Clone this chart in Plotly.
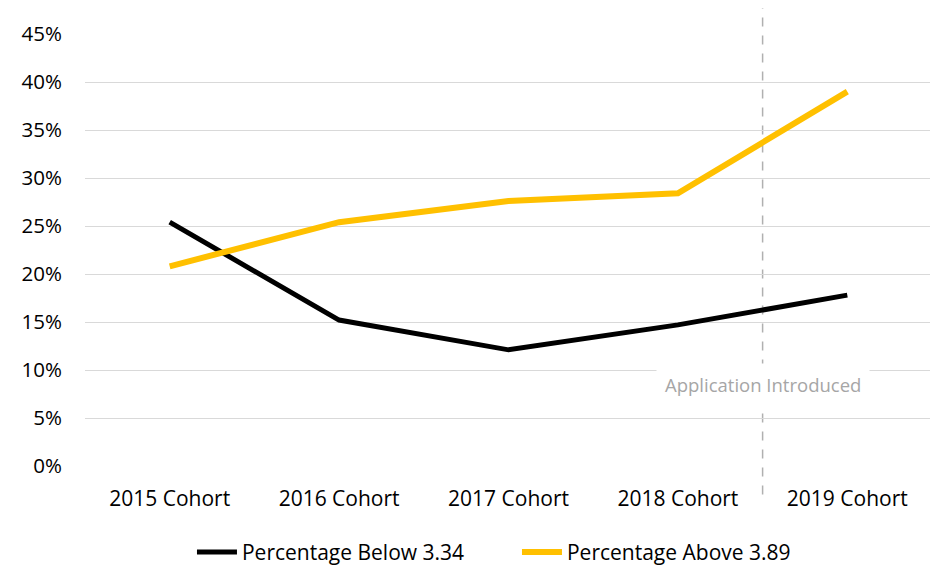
import plotly.graph_objects as go

categories = ["2015 Cohort", "2016 Cohort", "2017 Cohort", "2018 Cohort", "2019 Cohort"]
below_334 = [25.4, 15.2, 12.1, 14.7, 17.8]
above_389 = [20.8, 25.4, 27.6, 28.4, 39.0]
y_ticks = [0, 5, 10, 15, 20, 25, 30, 35, 40, 45]
y_tick_labels = [f"{v}%" for v in y_ticks]
intro_label = "Application Introduced"
intro_pos = 3.5

FONT = "Open Sans, Liberation Sans, sans-serif"

fig = go.Figure()
fig.add_trace(go.Scatter(x=list(range(len(categories))), y=below_334, mode="lines",
                         name="Percentage Below 3.34",
                         line=dict(color="#000000", width=5)))
fig.add_trace(go.Scatter(x=list(range(len(categories))), y=above_389, mode="lines",
                         name="Percentage Above 3.89",
                         line=dict(color="#FFC000", width=6)))

fig.add_shape(type="line", xref="x", yref="paper", x0=intro_pos, x1=intro_pos,
              y0=-0.066, y1=1.07, line=dict(color="#b0b0b0", width=1.5, dash="dash"), layer="below")
fig.add_annotation(x=intro_pos, y=8.5, xref="x", yref="y", text=intro_label, showarrow=False,
                   font=dict(family=FONT, size=18.5, color="#a6a6a6"), bgcolor="white",
                   borderpad=8)

fig.update_layout(
    width=938, height=577,
    margin=dict(l=77, r=14, t=26, b=111),
    paper_bgcolor="white", plot_bgcolor="white",
    font=dict(family=FONT, size=20.5, color="#000000"),
    showlegend=True,
    legend=dict(orientation="h", x=0.51, xanchor="center", y=-0.2, yanchor="middle",
                font=dict(family=FONT, size=21, color="#000000"), itemwidth=40,
                entrywidth=270, tracegroupgap=0),
    xaxis=dict(tickmode="array", tickvals=list(range(len(categories))), ticktext=categories,
               range=[-0.5, len(categories) - 0.5], showgrid=False, zeroline=False,
               showline=False, ticks="", ticklabelstandoff=18, automargin=False,
               tickfont=dict(family=FONT, size=21, color="#000000")),
    yaxis=dict(range=[0, 45], tickmode="array", tickvals=y_ticks, ticktext=y_tick_labels,
               showgrid=True, gridcolor="#d9d9d9", gridwidth=1.3, zeroline=False,
               showline=False, ticks="", ticklabelstandoff=22, automargin=False),
)

fig.write_html("out.html")
